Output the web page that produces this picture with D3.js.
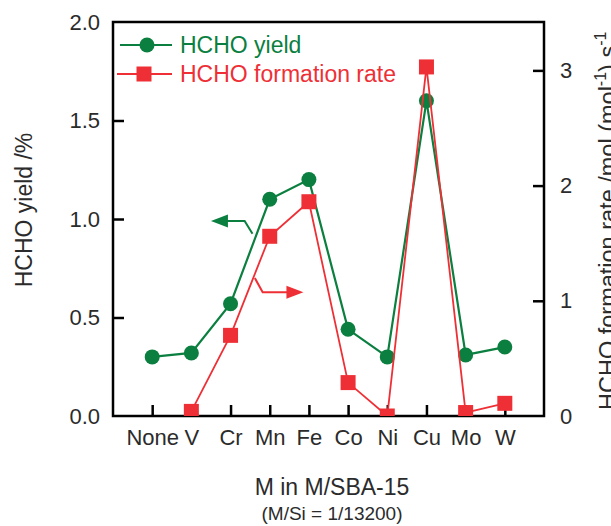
<!doctype html>
<html>
<head>
<script src="https://d3js.org/d3.v7.min.js"></script>
<style>
  body { margin: 0; background: #fff; }
  text { font-family: "Liberation Sans", Arial, sans-serif; }
</style>
</head>
<body>
<div id="chart"></div>
<script>
// data
var metals = ["None", "V", "Cr", "Mn", "Fe", "Co", "Ni", "Cu", "Mo", "W"];
var yieldPct = [0.30, 0.32, 0.57, 1.10, 1.20, 0.44, 0.30, 1.60, 0.31, 0.35];
var rate = [null, 0.04, 0.70, 1.56, 1.86, 0.29, 0.0, 3.03, 0.03, 0.11];
var leftTicks = [0, 0.5, 1.0, 1.5, 2.0];
var rightTicks = [0, 1, 2, 3];

var green = "#0b7f3f", red = "#ee3036", ink = "#2b2b2b";

var W = 611, H = 526;
var plot = { left: 113, right: 544, top: 22, bottom: 416 };

var svg = d3.select("#chart").append("svg")
    .attr("width", W).attr("height", H);

var x = d3.scalePoint().domain(metals).range([plot.left, plot.right]).padding(1);
// fractional category position, for the annotation arrows
var xi = d3.scaleLinear().domain([0, metals.length - 1]).range([x(metals[0]), x(metals[metals.length - 1])]);
var yL = d3.scaleLinear().domain([0, 2]).range([plot.bottom, plot.top]);
var yR = d3.scaleLinear().domain([0, 3.42]).range([plot.bottom, plot.top]);

svg.append("defs").append("clipPath").attr("id", "clip")
    .append("rect")
    .attr("x", plot.left).attr("y", plot.top)
    .attr("width", plot.right - plot.left).attr("height", plot.bottom - plot.top);

// axes, ticks pointing inward
var tl = 11;
var gL = svg.append("g").attr("transform", "translate(" + plot.left + ",0)")
    .call(d3.axisLeft(yL).tickValues(leftTicks).tickSize(-tl).tickPadding(13).tickFormat(d3.format(".1f")));
var gR = svg.append("g").attr("transform", "translate(" + plot.right + ",0)")
    .call(d3.axisRight(yR).tickValues(rightTicks).tickSize(-tl).tickPadding(16).tickFormat(d3.format("d")));
var gB = svg.append("g").attr("transform", "translate(0," + plot.bottom + ")")
    .call(d3.axisBottom(x).tickSize(-tl).tickPadding(13));

[gL, gR, gB].forEach(function (g) {
    g.select(".domain").remove();
    g.selectAll(".tick line").attr("stroke", "#000").attr("stroke-width", 2.5);
    g.selectAll(".tick text").attr("fill", ink).style("font-size", "22px")
        .style("font-family", "'Liberation Sans', Arial, sans-serif");
});
gL.selectAll(".tick line").filter(function (d) { return d === 0 || d === 2; }).remove();
gR.selectAll(".tick line").filter(function (d) { return d === 0; }).remove();

svg.append("rect")
    .attr("x", plot.left).attr("y", plot.top)
    .attr("width", plot.right - plot.left).attr("height", plot.bottom - plot.top)
    .attr("fill", "none").attr("stroke", "#000").attr("stroke-width", 2.5);

// series
var idx = d3.range(metals.length);
var g = svg.append("g").attr("clip-path", "url(#clip)");

g.append("path")
    .attr("d", d3.line().x(function (i) { return x(metals[i]); }).y(function (i) { return yL(yieldPct[i]); })(idx))
    .attr("fill", "none").attr("stroke", green).attr("stroke-width", 2.2);
g.selectAll(".dot").data(idx).enter().append("circle")
    .attr("class", "dot")
    .attr("cx", function (i) { return x(metals[i]); })
    .attr("cy", function (i) { return yL(yieldPct[i]); })
    .attr("r", 7.5).attr("fill", green);

g.append("path")
    .attr("d", d3.line().defined(function (i) { return rate[i] != null; })
        .x(function (i) { return x(metals[i]); }).y(function (i) { return yR(rate[i]); })(idx))
    .attr("fill", "none").attr("stroke", red).attr("stroke-width", 1.8);
var sq = 15;
g.selectAll(".sq").data(idx.filter(function (i) { return rate[i] != null; })).enter().append("rect")
    .attr("class", "sq")
    .attr("x", function (i) { return x(metals[i]) - sq / 2; })
    .attr("y", function (i) { return yR(rate[i]) - sq / 2; })
    .attr("width", sq).attr("height", sq).attr("fill", red);

// arrows pointing to each axis
function arrow(pts, color, dir) {
    var p = pts.map(function (d) { return [xi(d[0]), d[2] === "L" ? yL(d[1]) : yR(d[1])]; });
    var tip = p[p.length - 1];
    var hl = 17, hw = 6.5;
    svg.append("path")
        .attr("d", d3.line()(p.slice(0, -1).concat([[tip[0] - dir * hl * 0.8, tip[1]]])))
        .attr("fill", "none").attr("stroke", color).attr("stroke-width", 2);
    svg.append("path")
        .attr("d", "M" + tip[0] + "," + tip[1] + "L" + (tip[0] - dir * hl) + "," + (tip[1] - hw) +
            "L" + (tip[0] - dir * hl) + "," + (tip[1] + hw) + "Z")
        .attr("fill", color);
}
arrow([[2.56, 0.925, "L"], [2.36, 0.99, "L"], [1.50, 0.99, "L"]], green, -1);
arrow([[2.62, 1.197, "R"], [2.82, 1.075, "R"], [3.86, 1.075, "R"]], red, 1);

// legend
var lg = svg.append("g");
lg.append("line").attr("x1", 120).attr("x2", 172).attr("y1", 45).attr("y2", 45)
    .attr("stroke", green).attr("stroke-width", 2.2);
lg.append("circle").attr("cx", 147).attr("cy", 45).attr("r", 7.5).attr("fill", green);
lg.append("text").attr("x", 180).attr("y", 53).attr("fill", green)
    .style("font-size", "23px").text("HCHO yield");
lg.append("line").attr("x1", 117).attr("x2", 172).attr("y1", 74).attr("y2", 74)
    .attr("stroke", red).attr("stroke-width", 1.8);
lg.append("rect").attr("x", 144 - sq / 2).attr("y", 74 - sq / 2).attr("width", sq).attr("height", sq).attr("fill", red);
lg.append("text").attr("x", 180).attr("y", 82).attr("fill", red)
    .style("font-size", "23px").text("HCHO formation rate");

// axis titles
svg.append("text")
    .attr("transform", "translate(32,210) rotate(-90)")
    .attr("text-anchor", "middle").attr("fill", ink).style("font-size", "23px")
    .text("HCHO yield /%");

var rt = svg.append("text")
    .attr("transform", "translate(616,410) rotate(-90)")
    .attr("fill", ink).style("font-size", "23.5px");
rt.append("tspan").text("HCHO formation rate /mol (mol");
rt.append("tspan").attr("dy", -10).style("font-size", "16px").text("-1");
rt.append("tspan").attr("dy", 10).text(") s");
rt.append("tspan").attr("dy", -10).style("font-size", "16px").text("-1");

svg.append("text")
    .attr("x", 332).attr("y", 495).attr("text-anchor", "middle")
    .attr("fill", ink).style("font-size", "23px").text("M in M/SBA-15");
svg.append("text")
    .attr("x", 332).attr("y", 520).attr("text-anchor", "middle")
    .attr("fill", ink).style("font-size", "19px").text("(M/Si = 1/13200)");
</script>
</body>
</html>
